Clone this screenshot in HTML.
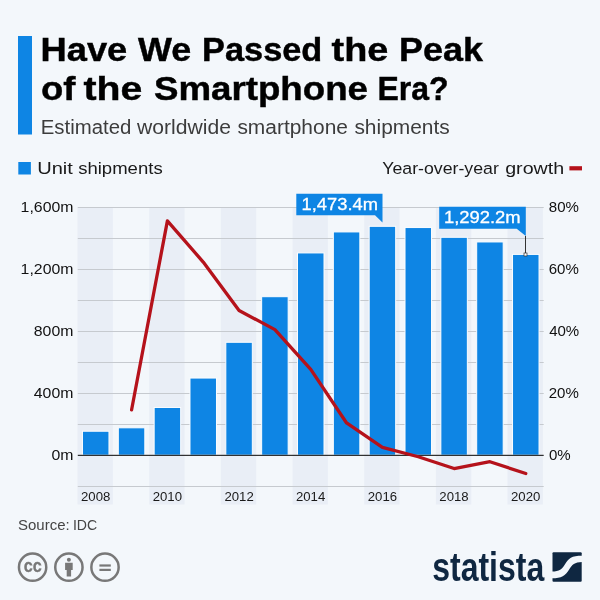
<!DOCTYPE html>
<html lang="en"><head><meta charset="utf-8"><title>Have We Passed the Peak of the Smartphone Era?</title>
<style>
html,body{margin:0;padding:0;background:#f3f7fb;}
body{width:600px;height:600px;overflow:hidden;font-family:"Liberation Sans",sans-serif;}
svg{display:block;}
text{font-family:"Liberation Sans",sans-serif;}
</style></head><body>
<svg width="600" height="600" viewBox="0 0 600 600">
<rect width="600" height="600" fill="#f3f7fb"/>

<rect x="18" y="36" width="14" height="98.5" fill="#0e85e4"/>
<text y="61.00" font-size="34" fill="#000" font-weight="700" stroke="#000" stroke-width="0.45"><tspan x="40.57" textLength="86.66" lengthAdjust="spacingAndGlyphs">Have</tspan> <tspan x="137.97" textLength="53.25" lengthAdjust="spacingAndGlyphs">We</tspan> <tspan x="202.11" textLength="120.16" lengthAdjust="spacingAndGlyphs">Passed</tspan> <tspan x="331.54" textLength="56.76" lengthAdjust="spacingAndGlyphs">the</tspan> <tspan x="399.10" textLength="83.87" lengthAdjust="spacingAndGlyphs">Peak</tspan></text>
<text y="100.00" font-size="34" fill="#000" font-weight="700" stroke="#000" stroke-width="0.45"><tspan x="40.97" textLength="34.45" lengthAdjust="spacingAndGlyphs">of</tspan> <tspan x="83.52" textLength="58.82" lengthAdjust="spacingAndGlyphs">the</tspan> <tspan x="153.94" textLength="214.01" lengthAdjust="spacingAndGlyphs">Smartphone</tspan> <tspan x="377.56" textLength="70.98" lengthAdjust="spacingAndGlyphs">Era?</tspan></text>
<text y="134.40" font-size="20" fill="#3c3c3c"><tspan x="40.73" textLength="90.58" lengthAdjust="spacingAndGlyphs">Estimated</tspan> <tspan x="137.03" textLength="93.91" lengthAdjust="spacingAndGlyphs">worldwide</tspan> <tspan x="237.42" textLength="110.51" lengthAdjust="spacingAndGlyphs">smartphone</tspan> <tspan x="354.42" textLength="95.34" lengthAdjust="spacingAndGlyphs">shipments</tspan></text>
<rect x="18.3" y="162" width="12.6" height="12.5" fill="#0e85e4"/>
<text y="174.00" font-size="17.4" fill="#1a1a1a"><tspan x="37.15" textLength="35.70" lengthAdjust="spacingAndGlyphs">Unit</tspan> <tspan x="78.18" textLength="84.49" lengthAdjust="spacingAndGlyphs">shipments</tspan></text>
<text y="174.00" font-size="17.4" fill="#1a1a1a"><tspan x="382.22" textLength="116.67" lengthAdjust="spacingAndGlyphs">Year-over-year</tspan> <tspan x="505.17" textLength="59.11" lengthAdjust="spacingAndGlyphs">growth</tspan></text>
<rect x="569.4" y="166.2" width="12.6" height="4.2" fill="#b5121b"/>
<rect x="77.50" y="207" width="35.34" height="297.5" fill="#e9eef6"/>
<rect x="149.18" y="207" width="35.34" height="297.5" fill="#e9eef6"/>
<rect x="220.85" y="207" width="35.34" height="297.5" fill="#e9eef6"/>
<rect x="292.53" y="207" width="35.34" height="297.5" fill="#e9eef6"/>
<rect x="364.21" y="207" width="35.34" height="297.5" fill="#e9eef6"/>
<rect x="435.88" y="207" width="35.34" height="297.5" fill="#e9eef6"/>
<rect x="507.56" y="207" width="35.34" height="297.5" fill="#e9eef6"/>
<rect x="77.8" y="486" width="465.9" height="1" fill="#c6cacf"/>
<rect x="77.8" y="424" width="465.9" height="1" fill="#c6cacf"/>
<rect x="77.8" y="393" width="465.9" height="1" fill="#c6cacf"/>
<rect x="77.8" y="362" width="465.9" height="1" fill="#c6cacf"/>
<rect x="77.8" y="331" width="465.9" height="1" fill="#c6cacf"/>
<rect x="77.8" y="300" width="465.9" height="1" fill="#c6cacf"/>
<rect x="77.8" y="269" width="465.9" height="1" fill="#c6cacf"/>
<rect x="77.8" y="238" width="465.9" height="1" fill="#c6cacf"/>
<rect x="77.8" y="207" width="465.9" height="1" fill="#c6cacf"/>
<text x="20.61" y="212.00" font-size="14.6" fill="#111" textLength="52.84" lengthAdjust="spacingAndGlyphs">1,600m</text>
<text x="20.61" y="274.00" font-size="14.6" fill="#111" textLength="52.84" lengthAdjust="spacingAndGlyphs">1,200m</text>
<text x="33.82" y="336.00" font-size="14.6" fill="#111" textLength="39.63" lengthAdjust="spacingAndGlyphs">800m</text>
<text x="33.82" y="398.00" font-size="14.6" fill="#111" textLength="39.63" lengthAdjust="spacingAndGlyphs">400m</text>
<text x="51.44" y="460.00" font-size="14.6" fill="#111" textLength="22.01" lengthAdjust="spacingAndGlyphs">0m</text>
<text x="548.85" y="212.40" font-size="14.6" fill="#111" textLength="30.10" lengthAdjust="spacingAndGlyphs">80%</text>
<text x="548.74" y="274.40" font-size="14.6" fill="#111" textLength="30.10" lengthAdjust="spacingAndGlyphs">60%</text>
<text x="549.15" y="336.40" font-size="14.6" fill="#111" textLength="30.10" lengthAdjust="spacingAndGlyphs">40%</text>
<text x="548.74" y="398.40" font-size="14.6" fill="#111" textLength="30.10" lengthAdjust="spacingAndGlyphs">20%</text>
<text x="548.91" y="460.40" font-size="14.6" fill="#111" textLength="21.73" lengthAdjust="spacingAndGlyphs">0%</text>
<rect x="82.47" y="431.23" width="26.50" height="23.97" fill="#0e85e4" stroke="#fbfdff" stroke-width="1"/>
<rect x="118.31" y="427.81" width="26.50" height="27.39" fill="#0e85e4" stroke="#fbfdff" stroke-width="1"/>
<rect x="154.15" y="407.47" width="26.50" height="47.73" fill="#0e85e4" stroke="#fbfdff" stroke-width="1"/>
<rect x="189.98" y="378.05" width="26.50" height="77.15" fill="#0e85e4" stroke="#fbfdff" stroke-width="1"/>
<rect x="225.82" y="342.28" width="26.50" height="112.92" fill="#0e85e4" stroke="#fbfdff" stroke-width="1"/>
<rect x="261.66" y="296.69" width="26.50" height="158.51" fill="#0e85e4" stroke="#fbfdff" stroke-width="1"/>
<rect x="297.50" y="252.94" width="26.50" height="202.26" fill="#0e85e4" stroke="#fbfdff" stroke-width="1"/>
<rect x="333.34" y="231.93" width="26.50" height="223.27" fill="#0e85e4" stroke="#fbfdff" stroke-width="1"/>
<rect x="369.18" y="226.32" width="26.50" height="228.88" fill="#0e85e4" stroke="#fbfdff" stroke-width="1"/>
<rect x="405.02" y="227.55" width="26.50" height="227.65" fill="#0e85e4" stroke="#fbfdff" stroke-width="1"/>
<rect x="440.85" y="237.30" width="26.50" height="217.90" fill="#0e85e4" stroke="#fbfdff" stroke-width="1"/>
<rect x="476.69" y="241.95" width="26.50" height="213.25" fill="#0e85e4" stroke="#fbfdff" stroke-width="1"/>
<rect x="512.53" y="254.41" width="26.50" height="200.79" fill="#0e85e4" stroke="#fbfdff" stroke-width="1"/>
<rect x="77.8" y="454.8" width="465.9" height="1.1" fill="#1c1c1c"/>
<text x="81.01" y="501.30" font-size="12.8" fill="#1a1a1a" textLength="29.33" lengthAdjust="spacingAndGlyphs">2008</text>
<text x="152.66" y="501.30" font-size="12.8" fill="#1a1a1a" textLength="29.33" lengthAdjust="spacingAndGlyphs">2010</text>
<text x="224.41" y="501.30" font-size="12.8" fill="#1a1a1a" textLength="29.33" lengthAdjust="spacingAndGlyphs">2012</text>
<text x="295.95" y="501.30" font-size="12.8" fill="#1a1a1a" textLength="29.33" lengthAdjust="spacingAndGlyphs">2014</text>
<text x="367.72" y="501.30" font-size="12.8" fill="#1a1a1a" textLength="29.33" lengthAdjust="spacingAndGlyphs">2016</text>
<text x="439.39" y="501.30" font-size="12.8" fill="#1a1a1a" textLength="29.33" lengthAdjust="spacingAndGlyphs">2018</text>
<text x="511.04" y="501.30" font-size="12.8" fill="#1a1a1a" textLength="29.33" lengthAdjust="spacingAndGlyphs">2020</text>
<polyline points="131.56,409.94 167.40,220.84 203.23,262.07 239.07,310.43 274.91,329.65 310.75,369.33 346.59,422.96 382.43,447.45 418.27,456.75 454.10,468.53 489.94,461.71 525.78,473.49" fill="none" stroke="#b5121b" stroke-width="3.3" stroke-linejoin="round" stroke-linecap="round"/>
<path d="M296.3 193.7H382.5V222.5L375 215.3H296.3Z" fill="#0e85e4"/>
<text y="209.70" font-size="16.5" fill="#fff" stroke="#fff" stroke-width="0.3"><tspan x="301.61" textLength="76.30" lengthAdjust="spacingAndGlyphs">1,473.4m</tspan></text>
<path d="M439.2 206.7H525.8V236L516.7 228.7H439.2Z" fill="#0e85e4"/>
<text y="222.80" font-size="16.5" fill="#fff" stroke="#fff" stroke-width="0.3"><tspan x="443.90" textLength="76.82" lengthAdjust="spacingAndGlyphs">1,292.2m</tspan></text>
<rect x="525" y="236" width="1" height="17" fill="#333"/>
<rect x="524" y="253" width="3" height="3" fill="#fff" stroke="#333" stroke-width="0.7"/>
<text y="530.40" font-size="15" fill="#454545"><tspan x="18.02" textLength="51.65" lengthAdjust="spacingAndGlyphs">Source:</tspan> <tspan x="72.90" textLength="24.34" lengthAdjust="spacingAndGlyphs">IDC</tspan></text>
<circle cx="32.60" cy="567.2" r="13.65" fill="none" stroke="#787878" stroke-width="2.5"/>
<circle cx="68.90" cy="567.2" r="13.65" fill="none" stroke="#787878" stroke-width="2.5"/>
<circle cx="105.00" cy="567.2" r="13.65" fill="none" stroke="#787878" stroke-width="2.5"/>
<text x="23.81" y="571.70" font-size="18" fill="#787878" textLength="18.02" lengthAdjust="spacingAndGlyphs" font-weight="700" stroke="#787878" stroke-width="0.3">cc</text>
<circle cx="68.9" cy="559.7" r="2" fill="#787878"/>
<path d="M65.1 562.7h7.6v7.4h-1.6v6.3h-4.4v-6.3h-1.6z" fill="#787878"/>
<rect x="99.4" y="564.4" width="11.4" height="2.2" fill="#787878"/>
<rect x="99.4" y="568.8" width="11.4" height="2.2" fill="#787878"/>
<text x="432.2" y="580.9" font-size="40.5" font-weight="700" fill="#0f2741" textLength="112" lengthAdjust="spacingAndGlyphs">statista</text>
<g transform="translate(552.5 552.3)"><rect width="29.2" height="29.4" rx="1" fill="#0f2741"/><path d="M-0.5 19.3C7 19.3 9.5 17 12.5 12C16 6 19 3.5 29.7 3.5V9.75C22 9.75 19.5 12.5 16.5 17.5C13 23.5 9 26 -0.5 26Z" fill="#f3f7fb"/></g>
</svg></body></html>
